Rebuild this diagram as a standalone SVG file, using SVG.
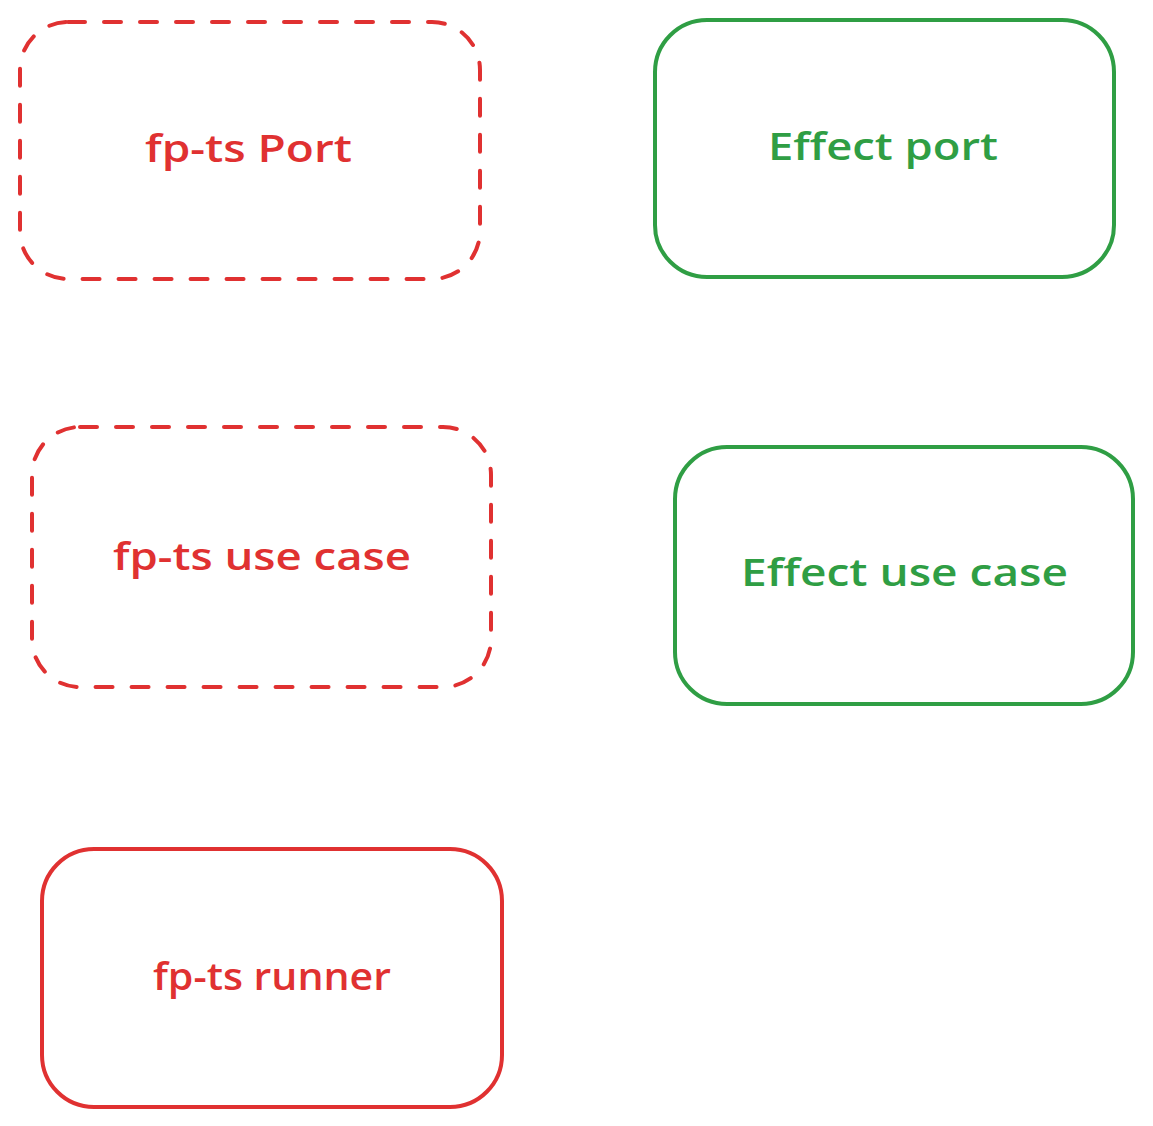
<svg xmlns="http://www.w3.org/2000/svg" width="1153" height="1126" viewBox="0 0 1153 1126">
<style>
.box{fill:none;stroke-width:4;stroke-linecap:round;stroke-linejoin:round}
.red{stroke:#e03131}
.green{stroke:#2f9e44}
.dash{stroke-dasharray:17 19}
.lbl{font-family:"Open Sans","Liberation Sans","DejaVu Sans",sans-serif;font-size:37px;font-weight:600}
.tr{fill:#e03131}
.tg{fill:#2f9e44}
</style>
<rect width="1153" height="1126" fill="#ffffff"/>
<g id="connectors"></g>
<g id="node-fpts-port">
<rect class="box red dash" x="20" y="22" width="460" height="257" rx="48" ry="48"/>
<text class="lbl tr" x="145" y="162" textLength="207" lengthAdjust="spacingAndGlyphs">fp-ts Port</text>
</g>
<g id="node-effect-port">
<rect class="box green" x="655" y="20" width="459" height="257" rx="52" ry="52"/>
<text class="lbl tg" x="768" y="160" textLength="230" lengthAdjust="spacingAndGlyphs">Effect port</text>
</g>
<g id="node-fpts-use-case">
<rect class="box red dash" x="32" y="427" width="459" height="260" rx="48" ry="48"/>
<text class="lbl tr" x="113" y="570" textLength="298" lengthAdjust="spacingAndGlyphs">fp-ts use case</text>
</g>
<g id="node-effect-use-case">
<rect class="box green" x="675" y="447" width="458" height="257" rx="52" ry="52"/>
<text class="lbl tg" x="741" y="586" textLength="327" lengthAdjust="spacingAndGlyphs">Effect use case</text>
</g>
<g id="node-fpts-runner">
<rect class="box red" x="42" y="849" width="460" height="258" rx="52" ry="52"/>
<text class="lbl tr" x="153" y="990" textLength="238" lengthAdjust="spacingAndGlyphs">fp-ts runner</text>
</g>
</svg>
